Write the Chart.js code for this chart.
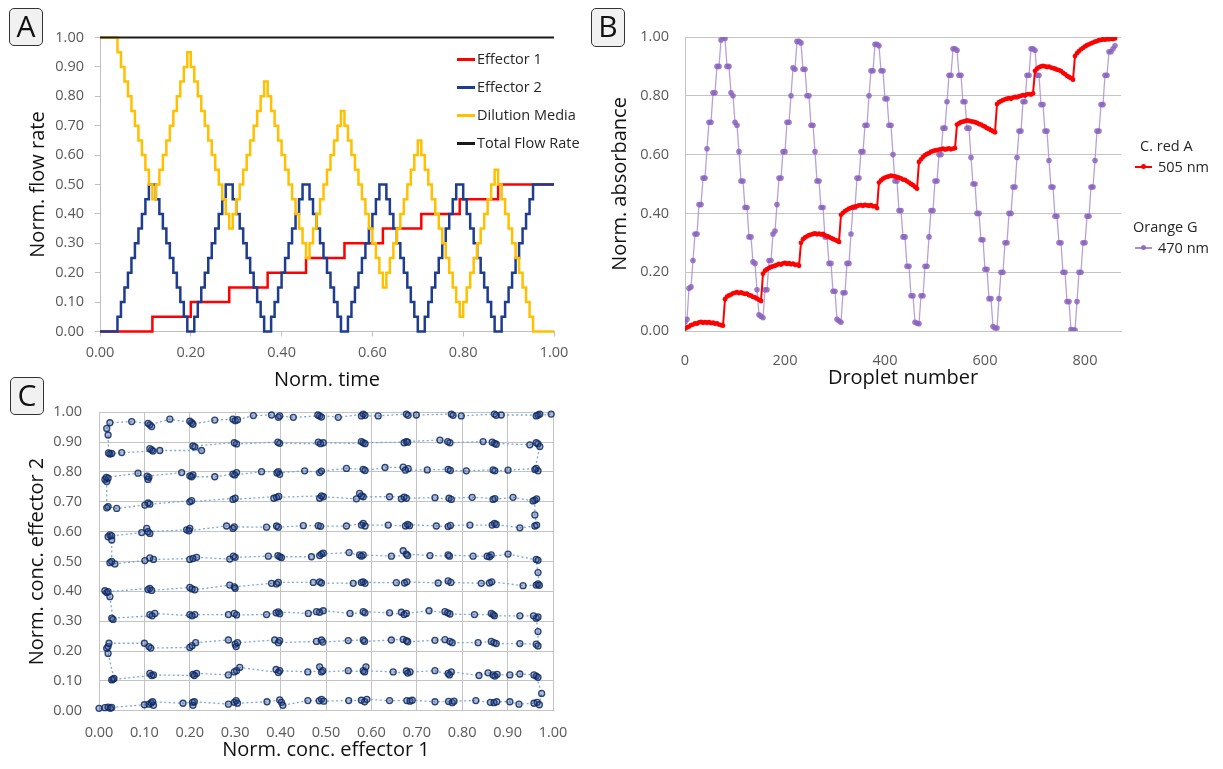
<!DOCTYPE html>
<html>
<head>
<meta charset="utf-8">
<script src="https://cdn.jsdelivr.net/npm/chart.js@4.4.1/dist/chart.umd.min.js"></script>
<style>
  html, body { margin: 0; padding: 0; background: #ffffff; }
  body { width: 1223px; height: 769px; position: relative; overflow: hidden; font-family: 'Open Sans', sans-serif; }
  canvas { position: absolute; }
  .panel-tag { position: absolute; box-sizing: border-box; border: 1.5px solid #333; border-radius: 5px; background: #f1f1f1;
               font-size: 30px; line-height: 34px; text-align: center; color: #111; }
  .lg { position: absolute; font-size: 14.5px; line-height: 18px; color: #262626; white-space: nowrap; }
  .sw { position: absolute; height: 3px; }
  .dot { position: absolute; width: 5px; height: 5px; border-radius: 50%; }
</style>
</head>
<body>
<canvas id="chartA" width="600" height="400" style="left:0px;top:0px;"></canvas>
<canvas id="chartB" width="623" height="400" style="left:600px;top:0px;"></canvas>
<canvas id="chartC" width="600" height="399" style="left:0px;top:370px;"></canvas>

<div class="panel-tag" style="left:9px;top:8px;width:34px;height:38px;">A</div>
<div class="panel-tag" style="left:591px;top:8px;width:34px;height:39px;">B</div>
<div class="panel-tag" style="left:10px;top:377px;width:34px;height:38px;">C</div>

<!-- Legend A -->
<div class="sw" style="left:457px;top:58px;width:18px;background:#ff0000;"></div>
<div class="lg" style="left:477px;top:50px;">Effector 1</div>
<div class="sw" style="left:457px;top:86px;width:18px;background:#1f3d8f;"></div>
<div class="lg" style="left:477px;top:78px;">Effector 2</div>
<div class="sw" style="left:457px;top:114px;width:18px;background:#ffc000;"></div>
<div class="lg" style="left:477px;top:106px;">Dilution Media</div>
<div class="sw" style="left:457px;top:142px;width:18px;background:#1a1a1a;"></div>
<div class="lg" style="left:477px;top:134px;">Total Flow Rate</div>

<!-- Legend B -->
<div class="lg" style="left:1140px;top:137px;">C. red A</div>
<div class="sw" style="left:1135px;top:166px;width:17px;height:1.5px;background:#ff0000;"></div>
<div class="dot" style="left:1141px;top:164px;background:#ff0000;"></div>
<div class="lg" style="left:1158px;top:158px;">505 nm</div>
<div class="lg" style="left:1133px;top:218px;">Orange G</div>
<div class="sw" style="left:1135px;top:247px;width:17px;height:1.5px;background:rgba(160,130,200,0.9);"></div>
<div class="dot" style="left:1141px;top:245px;background:rgba(140,100,190,0.9);"></div>
<div class="lg" style="left:1158px;top:239px;">470 nm</div>

<script>
// ---------------- Panel A data (normalised flow rates per pump step) ----------------
const effector1Levels = [
  0,0,0,0,0,0,0,0,0,0,0,0,0,0,0,
  0.05,0.05,0.05,0.05,0.05,0.05,0.05,0.05,0.05,0.05,0.05,
  0.10,0.10,0.10,0.10,0.10,0.10,0.10,0.10,0.10,0.10,0.10,
  0.15,0.15,0.15,0.15,0.15,0.15,0.15,0.15,0.15,0.15,0.15,
  0.20,0.20,0.20,0.20,0.20,0.20,0.20,0.20,0.20,0.20,0.20,
  0.25,0.25,0.25,0.25,0.25,0.25,0.25,0.25,0.25,0.25,0.25,
  0.30,0.30,0.30,0.30,0.30,0.30,0.30,0.30,0.30,0.30,0.30,
  0.35,0.35,0.35,0.35,0.35,0.35,0.35,0.35,0.35,0.35,0.35,
  0.40,0.40,0.40,0.40,0.40,0.40,0.40,0.40,0.40,0.40,0.40,
  0.45,0.45,0.45,0.45,0.45,0.45,0.45,0.45,0.45,0.45,0.45,
  0.50,0.50,0.50,0.50,0.50,0.50,0.50,0.50,0.50,0.50,0.50,0.50,0.50,0.50,0.50,0.50,0.50
];
const effector2Levels = [
  0,0,0,0,0,
  0.05,0.10,0.15,0.20,0.25,0.30,0.35,0.40,0.45,0.50,0.50,0.45,0.40,0.35,0.30,0.25,0.20,0.15,0.10,0.05,0,0,
  0.05,0.10,0.15,0.20,0.25,0.30,0.35,0.40,0.45,0.50,0.50,0.45,0.40,0.35,0.30,0.25,0.20,0.15,0.10,0.05,0,0,
  0.05,0.10,0.15,0.20,0.25,0.30,0.35,0.40,0.45,0.50,0.50,0.45,0.40,0.35,0.30,0.25,0.20,0.15,0.10,0.05,0,0,
  0.05,0.10,0.15,0.20,0.25,0.30,0.35,0.40,0.45,0.50,0.50,0.45,0.40,0.35,0.30,0.25,0.20,0.15,0.10,0.05,0,0,
  0.05,0.10,0.15,0.20,0.25,0.30,0.35,0.40,0.45,0.50,0.50,0.45,0.40,0.35,0.30,0.25,0.20,0.15,0.10,0.05,0,0,
  0.05,0.10,0.15,0.20,0.25,0.30,0.35,0.40,0.45,0.50,0.50,0.50,0.50,0.50,0.50,0.50
];
const dilutionLevels = [
  1,1,1,1,1,
  0.95,0.90,0.85,0.80,0.75,0.70,0.65,0.60,0.55, 0.50,0.45,
  0.50,0.55,0.60,0.65,0.70,0.75,0.80,0.85,0.90, 0.95,0.90,
  0.85,0.80,0.75,0.70,0.65,0.60,0.55,0.50,0.45, 0.40,0.35,
  0.40,0.45,0.50,0.55,0.60,0.65,0.70,0.75,0.80, 0.85,0.80,
  0.75,0.70,0.65,0.60,0.55,0.50,0.45,0.40,0.35, 0.30,0.25,
  0.30,0.35,0.40,0.45,0.50,0.55,0.60,0.65,0.70, 0.75,0.70,
  0.65,0.60,0.55,0.50,0.45,0.40,0.35,0.30,0.25, 0.20,0.15,
  0.20,0.25,0.30,0.35,0.40,0.45,0.50,0.55,0.60, 0.65,0.60,
  0.55,0.50,0.45,0.40,0.35,0.30,0.25,0.20,0.15, 0.10,0.05,
  0.10,0.15,0.20,0.25,0.30,0.35,0.40,0.45,0.50, 0.55,0.50,
  0.45,0.40,0.35,0.30,0.25,0.20,0.15,0.10,0.05,
  0,0,0,0,0,0,0
];
const totalFlowTime = [0.00, 1.00];
const totalFlowRate = [1.00, 1.00];
const pumpStepCount = 130; // step k starts at Norm. time k/130
const timeTicksA = [0.00, 0.20, 0.40, 0.60, 0.80, 1.00];

// ---------------- Panel B data (absorbance, one sample every 4 droplets) ----------------
const dropletSampleStep = 4;
const absorbance505 = [
  0.008,0.012,0.015,0.020,0.022,0.026,0.025,0.029,0.031,0.028,0.030,0.028,0.030,0.027,0.028,0.025,0.026,0.022,0.020,0.018,
  0.108,0.117,0.121,0.124,0.128,0.130,0.132,0.129,0.131,0.128,0.126,0.127,0.122,0.120,0.116,0.114,0.110,0.106,0.102,
  0.195,0.205,0.210,0.214,0.218,0.220,0.222,0.225,0.228,0.226,0.230,0.232,0.228,0.231,0.227,0.229,0.225,0.226,0.222,
  0.300,0.312,0.318,0.322,0.326,0.328,0.330,0.332,0.329,0.331,0.328,0.330,0.325,0.323,0.320,0.316,0.313,0.310,0.307,0.303,
  0.395,0.402,0.408,0.412,0.416,0.419,0.421,0.423,0.425,0.427,0.428,0.426,0.429,0.427,0.426,0.428,0.424,0.425,0.418,
  0.505,0.512,0.518,0.522,0.524,0.526,0.528,0.527,0.526,0.523,0.522,0.519,0.515,0.514,0.509,0.505,0.500,0.496,0.490,0.484,
  0.575,0.584,0.592,0.598,0.602,0.605,0.610,0.612,0.614,0.615,0.617,0.618,0.620,0.617,0.619,0.621,0.618,0.620,0.622,
  0.702,0.706,0.710,0.712,0.714,0.716,0.715,0.713,0.712,0.710,0.708,0.704,0.702,0.698,0.695,0.690,0.687,0.683,0.679,0.676,
  0.772,0.778,0.782,0.785,0.788,0.790,0.792,0.790,0.794,0.796,0.795,0.798,0.800,0.802,0.801,0.805,0.806,0.804,0.808,
  0.885,0.892,0.897,0.900,0.902,0.900,0.898,0.899,0.896,0.894,0.892,0.889,0.887,0.884,0.878,0.874,0.868,0.864,0.860,0.855,
  0.935,0.945,0.952,0.958,0.963,0.968,0.972,0.975,0.978,0.981,0.984,0.986,0.989,0.990,0.992,0.991,0.993,0.992,0.994,0.993,0.995
];
const absorbance470 = [
  0.030,0.040,0.145,0.150,0.240,0.330,0.330,0.430,0.430,0.520,0.520,0.620,0.710,0.710,0.810,0.810,0.900,0.900,0.990,1.000,0.995,
  0.900,0.900,0.810,0.800,0.710,0.700,0.610,0.510,0.510,0.420,0.420,0.320,0.320,0.235,0.230,0.140,0.055,0.050,0.045,
  0.140,0.140,0.240,0.240,0.330,0.340,0.430,0.520,0.520,0.610,0.610,0.710,0.710,0.800,0.895,0.890,0.985,0.985,0.980,
  0.890,0.890,0.800,0.800,0.700,0.700,0.610,0.510,0.510,0.420,0.420,0.320,0.320,0.230,0.230,0.135,0.135,0.040,0.034,0.030,
  0.130,0.130,0.230,0.230,0.330,0.420,0.420,0.520,0.520,0.610,0.610,0.700,0.700,0.800,0.885,0.885,0.975,0.975,0.970,
  0.885,0.885,0.790,0.790,0.700,0.700,0.600,0.510,0.510,0.410,0.410,0.320,0.320,0.220,0.220,0.120,0.120,0.030,0.026,0.025,
  0.120,0.120,0.220,0.220,0.320,0.410,0.410,0.510,0.510,0.600,0.600,0.690,0.690,0.780,0.870,0.870,0.960,0.960,0.955,
  0.870,0.870,0.780,0.780,0.690,0.690,0.590,0.500,0.500,0.400,0.400,0.310,0.310,0.210,0.210,0.110,0.110,0.015,0.010,0.010,
  0.110,0.200,0.200,0.300,0.300,0.400,0.400,0.490,0.490,0.590,0.680,0.680,0.780,0.780,0.870,0.870,0.960,0.960,0.955,
  0.870,0.870,0.770,0.770,0.680,0.680,0.580,0.490,0.490,0.390,0.390,0.300,0.300,0.200,0.200,0.100,0.100,0.005,0.003,0.003,
  0.100,0.200,0.200,0.300,0.300,0.390,0.390,0.490,0.490,0.580,0.680,0.680,0.770,0.770,0.870,0.870,0.950,0.950,0.960,0.970
];

// ---------------- Panel C data ([conc. effector 1, conc. effector 2]) ----------------
const cRow0 = [[0.0,0.008],[0.013,0.01],[0.02,0.012],[0.025,0.008],[0.028,0.011],[0.10,0.02],[0.11,0.022],[0.115,0.026],[0.12,0.018],[0.118,0.03],[0.185,0.025],[0.206,0.028],[0.207,0.018],[0.21,0.03],[0.285,0.022],[0.298,0.028],[0.302,0.034],[0.305,0.025],[0.37,0.03],[0.398,0.036],[0.402,0.028],[0.405,0.018],[0.46,0.034],[0.485,0.033],[0.49,0.038],[0.495,0.032],[0.55,0.034],[0.578,0.035],[0.585,0.03],[0.59,0.038],[0.64,0.034],[0.678,0.034],[0.685,0.032],[0.69,0.035],[0.74,0.03],[0.77,0.031],[0.778,0.027],[0.782,0.032],[0.83,0.034],[0.862,0.028],[0.87,0.027],[0.876,0.03],[0.905,0.03],[0.925,0.022],[0.958,0.025],[0.965,0.028],[0.97,0.02],[0.975,0.058]];
const cRow1 = [[0.963,0.116],[0.967,0.112],[0.958,0.12],[0.927,0.123],[0.905,0.12],[0.868,0.12],[0.872,0.116],[0.877,0.122],[0.857,0.127],[0.837,0.118],[0.776,0.13],[0.769,0.125],[0.772,0.12],[0.74,0.134],[0.685,0.13],[0.677,0.133],[0.68,0.126],[0.648,0.13],[0.582,0.134],[0.588,0.147],[0.585,0.13],[0.549,0.134],[0.49,0.13],[0.486,0.147],[0.493,0.134],[0.46,0.13],[0.398,0.134],[0.39,0.138],[0.395,0.128],[0.31,0.145],[0.303,0.134],[0.298,0.13],[0.285,0.12],[0.215,0.125],[0.207,0.122],[0.21,0.118],[0.12,0.12],[0.112,0.125],[0.116,0.118],[0.031,0.105],[0.028,0.103],[0.033,0.108],[0.02,0.192]];
const cRow2 = [[0.017,0.209],[0.02,0.215],[0.022,0.226],[0.10,0.226],[0.11,0.215],[0.114,0.21],[0.2,0.212],[0.205,0.218],[0.213,0.228],[0.285,0.237],[0.3,0.223],[0.302,0.215],[0.305,0.228],[0.387,0.237],[0.398,0.235],[0.395,0.228],[0.479,0.232],[0.49,0.237],[0.493,0.23],[0.549,0.235],[0.582,0.237],[0.585,0.232],[0.644,0.237],[0.67,0.239],[0.677,0.235],[0.68,0.231],[0.74,0.236],[0.762,0.238],[0.773,0.232],[0.778,0.228],[0.835,0.228],[0.864,0.232],[0.87,0.228],[0.875,0.225],[0.927,0.225],[0.963,0.223],[0.967,0.217],[0.967,0.265]];
const cRow3 = [[0.963,0.31],[0.967,0.314],[0.957,0.318],[0.927,0.318],[0.871,0.318],[0.864,0.326],[0.868,0.322],[0.827,0.322],[0.773,0.324],[0.762,0.332],[0.768,0.328],[0.727,0.335],[0.677,0.326],[0.666,0.33],[0.672,0.322],[0.64,0.328],[0.582,0.332],[0.586,0.328],[0.553,0.326],[0.494,0.335],[0.486,0.33],[0.479,0.332],[0.461,0.326],[0.395,0.331],[0.398,0.325],[0.39,0.328],[0.369,0.322],[0.303,0.321],[0.298,0.326],[0.285,0.322],[0.211,0.322],[0.2,0.322],[0.205,0.318],[0.123,0.326],[0.112,0.322],[0.117,0.318],[0.028,0.31],[0.031,0.306],[0.024,0.382]];
const cRow4 = [[0.013,0.402],[0.017,0.396],[0.02,0.399],[0.112,0.41],[0.108,0.406],[0.116,0.403],[0.2,0.413],[0.205,0.408],[0.211,0.405],[0.288,0.421],[0.3,0.41],[0.298,0.415],[0.38,0.427],[0.391,0.425],[0.395,0.43],[0.472,0.43],[0.486,0.432],[0.49,0.428],[0.56,0.427],[0.582,0.432],[0.586,0.427],[0.578,0.43],[0.655,0.429],[0.673,0.428],[0.678,0.432],[0.747,0.428],[0.769,0.435],[0.775,0.43],[0.842,0.427],[0.86,0.428],[0.865,0.432],[0.934,0.419],[0.963,0.421],[0.967,0.425],[0.97,0.42],[0.967,0.463]];
const cRow5 = [[0.963,0.507],[0.967,0.504],[0.901,0.525],[0.86,0.516],[0.864,0.522],[0.855,0.518],[0.824,0.518],[0.769,0.522],[0.772,0.518],[0.729,0.52],[0.677,0.525],[0.67,0.536],[0.68,0.52],[0.644,0.518],[0.582,0.522],[0.574,0.522],[0.578,0.518],[0.551,0.53],[0.49,0.525],[0.486,0.52],[0.494,0.528],[0.468,0.516],[0.398,0.516],[0.394,0.52],[0.402,0.513],[0.373,0.518],[0.3,0.514],[0.296,0.518],[0.288,0.508],[0.215,0.514],[0.2,0.507],[0.207,0.51],[0.12,0.507],[0.112,0.512],[0.101,0.503],[0.035,0.492],[0.024,0.496],[0.028,0.5],[0.028,0.572]];
const cRow6 = [[0.02,0.583],[0.024,0.589],[0.028,0.586],[0.094,0.597],[0.105,0.611],[0.112,0.594],[0.108,0.6],[0.193,0.606],[0.2,0.611],[0.198,0.603],[0.281,0.619],[0.295,0.611],[0.298,0.616],[0.369,0.615],[0.391,0.619],[0.395,0.615],[0.45,0.62],[0.483,0.62],[0.488,0.618],[0.545,0.619],[0.582,0.628],[0.586,0.619],[0.578,0.622],[0.637,0.622],[0.675,0.619],[0.684,0.62],[0.68,0.624],[0.743,0.619],[0.769,0.617],[0.774,0.621],[0.817,0.622],[0.866,0.622],[0.871,0.628],[0.875,0.624],[0.927,0.613],[0.96,0.619],[0.964,0.622],[0.96,0.656]];
const cRow7 = [[0.96,0.706],[0.964,0.71],[0.956,0.703],[0.912,0.715],[0.868,0.708],[0.872,0.711],[0.822,0.715],[0.771,0.712],[0.776,0.708],[0.74,0.714],[0.677,0.712],[0.666,0.71],[0.672,0.716],[0.64,0.717],[0.582,0.717],[0.574,0.728],[0.578,0.72],[0.567,0.71],[0.494,0.717],[0.486,0.712],[0.49,0.72],[0.391,0.715],[0.385,0.712],[0.396,0.718],[0.295,0.708],[0.3,0.712],[0.2,0.7],[0.204,0.704],[0.112,0.692],[0.108,0.696],[0.101,0.689],[0.039,0.678],[0.02,0.684],[0.017,0.68],[0.017,0.768]];
const cRow8 = [[0.013,0.775],[0.02,0.779],[0.016,0.782],[0.086,0.796],[0.108,0.775],[0.11,0.782],[0.106,0.786],[0.182,0.798],[0.2,0.787],[0.207,0.79],[0.204,0.784],[0.255,0.784],[0.295,0.793],[0.303,0.798],[0.299,0.79],[0.358,0.801],[0.395,0.801],[0.398,0.792],[0.392,0.797],[0.453,0.804],[0.486,0.798],[0.49,0.803],[0.545,0.812],[0.582,0.809],[0.586,0.805],[0.63,0.815],[0.67,0.816],[0.681,0.811],[0.675,0.806],[0.723,0.807],[0.769,0.809],[0.774,0.805],[0.809,0.804],[0.868,0.807],[0.872,0.804],[0.901,0.806],[0.963,0.812],[0.967,0.804],[0.96,0.808],[0.971,0.885]];
const cRow9 = [[0.967,0.894],[0.963,0.898],[0.949,0.891],[0.871,0.896],[0.866,0.9],[0.875,0.893],[0.846,0.902],[0.773,0.898],[0.768,0.902],[0.751,0.907],[0.677,0.902],[0.672,0.898],[0.68,0.9],[0.582,0.898],[0.578,0.902],[0.586,0.895],[0.494,0.898],[0.483,0.9],[0.488,0.895],[0.398,0.896],[0.394,0.9],[0.303,0.894],[0.298,0.898],[0.207,0.887],[0.211,0.884],[0.226,0.872],[0.134,0.872],[0.116,0.874],[0.112,0.878],[0.119,0.87],[0.05,0.865],[0.024,0.86],[0.028,0.862],[0.021,0.864],[0.02,0.924],[0.017,0.946]];
const cRow10 = [[0.024,0.965],[0.072,0.969],[0.108,0.963],[0.116,0.952],[0.112,0.958],[0.156,0.977],[0.204,0.965],[0.2,0.97],[0.207,0.96],[0.255,0.974],[0.295,0.977],[0.3,0.972],[0.305,0.975],[0.34,0.989],[0.38,0.991],[0.395,0.983],[0.398,0.988],[0.428,0.983],[0.486,0.988],[0.49,0.984],[0.482,0.991],[0.527,0.983],[0.582,0.994],[0.586,0.99],[0.578,0.988],[0.615,0.988],[0.677,0.994],[0.681,0.99],[0.699,0.991],[0.776,0.994],[0.78,0.99],[0.798,0.988],[0.871,0.994],[0.875,0.99],[0.886,0.991],[0.967,0.991],[0.971,0.994],[0.963,0.988],[0.996,0.994]];

// ---------------- Common styling ----------------
Chart.defaults.font.family = "'Open Sans', sans-serif";
Chart.defaults.animation = false;
const tickFont = { size: 14.5 };
const tickColor = '#595959';
const titleFont = { size: 20 };
const titleColor = '#111111';
const fixW = w => s => { s.width = w; };
const fixH = h => s => { s.height = h; };
const fmt2 = v => Number(v).toFixed(2);

// ---------------- Chart A ----------------
const stepPts = arr => arr.map((v, i) => ({ x: i / pumpStepCount, y: v }));
new Chart(document.getElementById('chartA'), {
  type: 'line',
  data: {
    datasets: [
      { label: 'Effector 1', data: stepPts(effector1Levels), borderColor: '#ff0000', borderWidth: 2.5, stepped: 'before', pointRadius: 0, order: 3, clip: false },
      { label: 'Effector 2', data: stepPts(effector2Levels), borderColor: '#1f3d8f', borderWidth: 2.5, stepped: 'before', pointRadius: 0, order: 2, clip: false },
      { label: 'Dilution Media', data: stepPts(dilutionLevels), borderColor: '#ffc000', borderWidth: 2.5, stepped: 'before', pointRadius: 0, order: 1, clip: false },
      { label: 'Total Flow Rate', data: totalFlowRate.map((v, i) => ({ x: totalFlowTime[i], y: v })), borderColor: '#1a1a1a', borderWidth: 2, pointRadius: 0, order: 0, clip: false }
    ]
  },
  options: {
    responsive: false, animation: false,
    layout: { padding: { left: 22, top: 37.5, right: 46, bottom: 4 } },
    plugins: { legend: { display: false }, tooltip: { enabled: false } },
    scales: {
      x: {
        type: 'linear', min: 0, max: 1,
        afterBuildTicks: s => { s.ticks = timeTicksA.map(v => ({ value: v })); },
        ticks: { callback: fmt2, color: tickColor, font: tickFont, padding: 8, maxRotation: 0 },
        grid: { display: true, drawOnChartArea: false, drawTicks: true, tickLength: 5, color: '#bfbfbf' },
        border: { display: true, color: '#bfbfbf' },
        title: { display: true, text: 'Norm. time', color: titleColor, font: titleFont },
        afterFit: fixH(64.5)
      },
      y: {
        min: 0, max: 1,
        ticks: { stepSize: 0.1, callback: fmt2, color: tickColor, font: tickFont, padding: 11 },
        grid: { display: true, drawOnChartArea: false, drawTicks: true, tickLength: 5, color: '#bfbfbf' },
        border: { display: true, color: '#bfbfbf' },
        title: { display: true, text: 'Norm. flow rate', color: titleColor, font: titleFont },
        afterFit: fixW(78)
      }
    }
  }
});

// ---------------- Chart B ----------------
const dropletPts = arr => arr.map((v, i) => ({ x: i * dropletSampleStep, y: v }));
new Chart(document.getElementById('chartB'), {
  type: 'line',
  data: {
    datasets: [
      { label: 'C. red A 505 nm', data: dropletPts(absorbance505), borderColor: '#ff0000', borderWidth: 2,
        pointRadius: 2.4, pointBackgroundColor: '#ff0000', pointBorderWidth: 0 },
      { label: 'Orange G 470 nm', data: dropletPts(absorbance470), borderColor: 'rgba(170,145,210,0.85)', borderWidth: 1.3,
        pointRadius: 2.8, pointBackgroundColor: 'rgba(140,100,190,0.85)', pointBorderWidth: 0 }
    ]
  },
  options: {
    responsive: false, animation: false,
    layout: { padding: { left: 4, top: 37, right: 102, bottom: 6 } },
    plugins: { legend: { display: false }, tooltip: { enabled: false } },
    scales: {
      x: {
        type: 'linear', min: 0, max: 872,
        ticks: { stepSize: 200, includeBounds: false, color: tickColor, font: tickFont, padding: 13, maxRotation: 0 },
        grid: { display: false },
        border: { display: true, color: '#c4c4c4' },
        title: { display: true, text: 'Droplet number', color: titleColor, font: titleFont },
        afterFit: fixH(63)
      },
      y: {
        min: 0, max: 1,
        ticks: { stepSize: 0.2, callback: fmt2, color: tickColor, font: tickFont, padding: 16 },
        grid: { display: true, drawTicks: false, color: '#c4c4c4' },
        border: { display: true, color: '#c4c4c4' },
        title: { display: true, text: 'Norm. absorbance', color: titleColor, font: titleFont },
        afterFit: fixW(81)
      }
    }
  }
});

// ---------------- Chart C ----------------
const cPath = [].concat(cRow0, cRow1, cRow2, cRow3, cRow4, cRow5, cRow6, cRow7, cRow8, cRow9, cRow10);
new Chart(document.getElementById('chartC'), {
  type: 'scatter',
  data: {
    datasets: [{
      label: 'Droplets', data: cPath.map(p => ({ x: p[0], y: p[1] })),
      showLine: true, borderColor: 'rgba(110,160,215,0.9)', borderWidth: 1.3, borderDash: [2, 2.5],
      pointRadius: 3, pointBorderWidth: 1.3, pointBorderColor: 'rgba(12,40,100,0.85)', pointBackgroundColor: 'rgba(40,70,130,0.35)',
      clip: false
    }]
  },
  options: {
    responsive: false, animation: false,
    layout: { padding: { left: 21, top: 42.3, right: 47, bottom: 3 } },
    plugins: { legend: { display: false }, tooltip: { enabled: false } },
    scales: {
      x: {
        type: 'linear', min: 0, max: 1,
        ticks: { stepSize: 0.1, callback: fmt2, color: tickColor, font: tickFont, padding: 13, maxRotation: 0, autoSkip: false },
        grid: { display: true, drawTicks: false, color: '#c4c4c4' },
        border: { display: true, color: '#c4c4c4' },
        title: { display: true, text: 'Norm. conc. effector 1', color: titleColor, font: titleFont },
        afterFit: fixH(55.3)
      },
      y: {
        min: 0, max: 1,
        ticks: { stepSize: 0.1, callback: fmt2, color: tickColor, font: tickFont, padding: 17, autoSkip: false },
        grid: { display: true, drawTicks: false, color: '#c4c4c4' },
        border: { display: true, color: '#c4c4c4' },
        title: { display: true, text: 'Norm. conc. effector 2', color: titleColor, font: titleFont },
        afterFit: fixW(78)
      }
    }
  }
});
</script>
</body>
</html>
